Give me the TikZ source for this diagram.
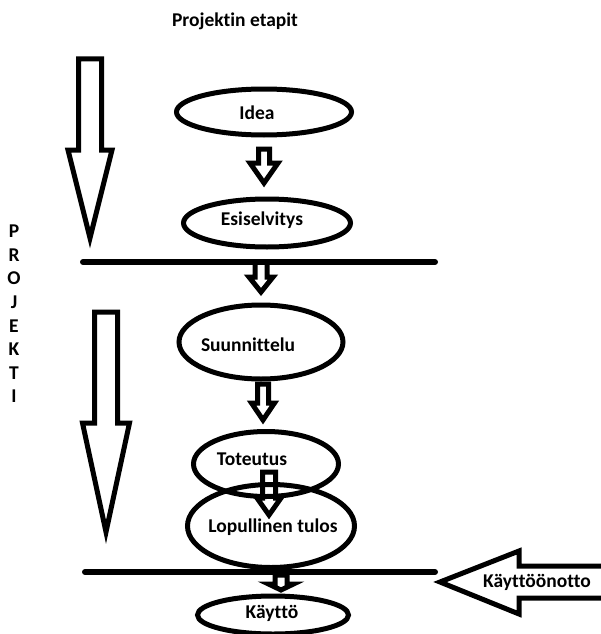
\documentclass[tikz,border=0pt]{standalone}
\usepackage{fontspec}
\setmainfont{Carlito}[Ligatures=NoCommon]
\usetikzlibrary{calc,shapes.geometric}
\begin{document}
\begin{tikzpicture}[x=1pt,y=-1pt,
  stage/.style={draw, ellipse, line width=5pt, inner sep=0pt},
  txt/.style={font=\bfseries\fontsize{19.5}{23.6}\selectfont, inner sep=0pt, align=center},
  blockarrow/.style={draw, line width=5pt},
  divider/.style={line width=6pt, line cap=round}]

\newcommand\downblock[5]{%
  \draw[blockarrow] let \p1=(#1), \p2=(#2) in
    (\x1-#3pt,\y1) -- (\x1+#3pt,\y1) -- (\x1+#3pt,\y2+#5pt) -- (\x1+#4pt,\y2+#5pt)
    -- (\x1,\y2) -- (\x1-#4pt,\y2+#5pt) -- (\x1-#3pt,\y2+#5pt) -- cycle;}

\useasboundingbox (0,0) rectangle (600,634);

\node[txt] (title) at (235,21) {Projektin etapit};
\node[txt] (projekti) at (14,314) {P\\R\\O\\J\\E\\K\\T\\I};

%% stages
\node[stage, minimum width=175pt, minimum height=46pt] (idea) at (264,112) {};
\node[txt] (ideatxt) at (257,113) {Idea};
\node[stage, minimum width=167pt, minimum height=48pt] (esi) at (267,223) {};
\node[txt] (esitxt) at (262,220) {Esiselvitys};
\node[stage, minimum width=164pt, minimum height=74pt] (suun) at (261,342) {};
\node[txt] (suuntxt) at (248,345) {Suunnittelu};
\node[stage, minimum width=145pt, minimum height=65pt] (tot) at (266,464) {};
\node[txt] (tottxt) at (252,459) {Toteutus};
\node[stage, minimum width=167pt, minimum height=83pt] (lop) at (271,526) {};
\node[txt] (loptxt) at (273,527) {Lopullinen tulos};
\node[stage, minimum width=151pt, minimum height=38pt] (kay) at (273,615) {};
\node[txt] (kaytxt) at (272,613) {Käyttö};

%% phase lines
\coordinate (l1a) at (83,262);
\coordinate (l1b) at (435,262);
\coordinate (l2a) at (85,572);
\coordinate (l2b) at (435,572);
\draw[divider] (l1a) -- (l1b);
\draw[divider] (l2a) -- (l2b);

%% big arrows
\coordinate (big1top) at (90,59);
\coordinate (big1tip) at (90,238);
\coordinate (big2top) at (106,312);
\coordinate (big2tip) at (106,532);
\downblock{big1top}{big1tip}{11.5}{22}{88}
\downblock{big2top}{big2tip}{11.5}{23.5}{109}

%% small arrows
\coordinate (a1top) at (264,149);
\coordinate (a1tip) at (264,183);
\coordinate (a2top) at (261,262);
\coordinate (a2tip) at (261,292);
\coordinate (a3top) at (263,384);
\coordinate (a3tip) at (263,420);
\coordinate (a4top) at (269,472);
\coordinate (a4tip) at (269,515);
\coordinate (a5top) at (281,575);
\coordinate (a5tip) at (281,590);
\downblock{a1top}{a1tip}{5.5}{14}{20}
\downblock{a2top}{a2tip}{6}{12}{15}
\downblock{a3top}{a3tip}{5.5}{11.5}{17}
\downblock{a4top}{a4tip}{6.5}{12}{17}
\downblock{a5top}{a5tip}{6}{12.5}{6}

%% kayttoonotto
\coordinate (kotip) at (440,582);
\draw[blockarrow] (606,566) -- (519,566) -- (519,551) -- (kotip)
  -- (519,614) -- (519,598) -- (606,598);
\node[txt] (kotxt) at (537,582) {Käyttöönotto};

\end{tikzpicture}
\end{document}
